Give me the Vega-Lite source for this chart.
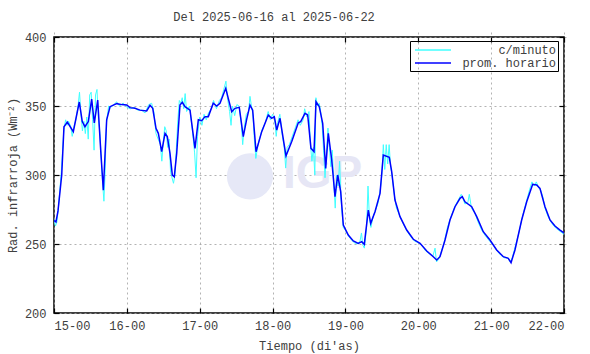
{
  "$schema": "https://vega.github.io/schema/vega-lite/v6.json",
  "width": 510,
  "height": 276,
  "autosize": {"type": "none"},
  "padding": {"left": 54, "top": 37, "right": 26, "bottom": 41},
  "background": "white",
  "title": {"text": "Del 2025-06-16 al 2025-06-22", "dx": -35, "offset": 7},
  "config": {
    "view": {"stroke": "#000000", "strokeWidth": 1.5},
    "font": "Liberation Mono",
    "title": {"font": "Liberation Mono", "fontSize": 12, "fontWeight": "normal", "color": "#404040"},
    "axis": {
      "labelFont": "Liberation Mono", "labelFontSize": 12, "labelColor": "#404040",
      "titleFont": "Liberation Mono", "titleFontSize": 12, "titleFontWeight": "normal", "titleColor": "#404040",
      "domain": false, "ticks": true, "tickColor": "#000000", "tickSize": 5, "tickWidth": 1.2, "offset": -5,
      "gridColor": "#a0a0a0", "gridDash": [2, 3], "gridWidth": 0.8
    },
    "legend": {
      "labelFont": "Liberation Mono", "labelFontSize": 12, "labelColor": "#404040"
    }
  },
  "datasets": {
    "horario": [
      {"t": 15.000, "v": 267}, {"t": 15.027, "v": 266}, {"t": 15.055, "v": 274}, {"t": 15.106, "v": 300},
      {"t": 15.137, "v": 335}, {"t": 15.183, "v": 338.4}, {"t": 15.265, "v": 331.4}, {"t": 15.347, "v": 352.9},
      {"t": 15.388, "v": 338.7}, {"t": 15.425, "v": 335}, {"t": 15.471, "v": 338.7}, {"t": 15.517, "v": 355},
      {"t": 15.553, "v": 337.7}, {"t": 15.600, "v": 354.3}, {"t": 15.641, "v": 318}, {"t": 15.677, "v": 289},
      {"t": 15.723, "v": 340}, {"t": 15.769, "v": 349.5}, {"t": 15.861, "v": 351.7}, {"t": 15.929, "v": 351},
      {"t": 15.998, "v": 350.7}, {"t": 16.043, "v": 348.8}, {"t": 16.112, "v": 348.3}, {"t": 16.180, "v": 347},
      {"t": 16.272, "v": 346.4}, {"t": 16.318, "v": 350.5}, {"t": 16.355, "v": 348.3}, {"t": 16.400, "v": 333.8},
      {"t": 16.432, "v": 330.2}, {"t": 16.478, "v": 316.9}, {"t": 16.524, "v": 330.2}, {"t": 16.555, "v": 327.8},
      {"t": 16.592, "v": 315.7}, {"t": 16.624, "v": 300}, {"t": 16.651, "v": 298.8}, {"t": 16.684, "v": 315.7},
      {"t": 16.729, "v": 350.7}, {"t": 16.761, "v": 352.7}, {"t": 16.798, "v": 349.5}, {"t": 16.867, "v": 347},
      {"t": 16.935, "v": 319.3}, {"t": 16.981, "v": 340}, {"t": 17.027, "v": 339.4}, {"t": 17.073, "v": 342.3},
      {"t": 17.118, "v": 342.3}, {"t": 17.186, "v": 352}, {"t": 17.233, "v": 350}, {"t": 17.278, "v": 352},
      {"t": 17.357, "v": 362.8}, {"t": 17.439, "v": 345.9}, {"t": 17.484, "v": 348.3}, {"t": 17.543, "v": 349},
      {"t": 17.598, "v": 327.8}, {"t": 17.645, "v": 340.5}, {"t": 17.690, "v": 350.7}, {"t": 17.727, "v": 347},
      {"t": 17.773, "v": 316.9}, {"t": 17.851, "v": 331.4}, {"t": 17.941, "v": 343.5}, {"t": 17.988, "v": 341.1},
      {"t": 18.024, "v": 342.3}, {"t": 18.057, "v": 332.6}, {"t": 18.102, "v": 341.1}, {"t": 18.184, "v": 313.8},
      {"t": 18.263, "v": 324.2}, {"t": 18.353, "v": 337.9}, {"t": 18.386, "v": 338.7}, {"t": 18.445, "v": 344.7},
      {"t": 18.482, "v": 343.5}, {"t": 18.527, "v": 319.3}, {"t": 18.569, "v": 316.9}, {"t": 18.596, "v": 353.1},
      {"t": 18.641, "v": 349.5}, {"t": 18.688, "v": 337.4}, {"t": 18.729, "v": 304.8}, {"t": 18.765, "v": 330.2},
      {"t": 18.812, "v": 310.9}, {"t": 18.857, "v": 284.3}, {"t": 18.894, "v": 300}, {"t": 18.935, "v": 287.9},
      {"t": 18.971, "v": 263.8}, {"t": 19.039, "v": 256.5}, {"t": 19.108, "v": 252.2}, {"t": 19.177, "v": 250.5},
      {"t": 19.223, "v": 251.7}, {"t": 19.259, "v": 249.8}, {"t": 19.314, "v": 274.6}, {"t": 19.347, "v": 265},
      {"t": 19.406, "v": 273.4}, {"t": 19.475, "v": 286.7}, {"t": 19.520, "v": 314.5}, {"t": 19.602, "v": 312.8},
      {"t": 19.635, "v": 302.4}, {"t": 19.680, "v": 281.9}, {"t": 19.749, "v": 269.8}, {"t": 19.841, "v": 260.1},
      {"t": 19.932, "v": 253.4}, {"t": 20.024, "v": 250.5}, {"t": 20.116, "v": 244.9}, {"t": 20.206, "v": 240.8},
      {"t": 20.253, "v": 238.4}, {"t": 20.298, "v": 240.8}, {"t": 20.367, "v": 252.9}, {"t": 20.435, "v": 267.4},
      {"t": 20.504, "v": 277}, {"t": 20.573, "v": 283.1}, {"t": 20.604, "v": 284.3}, {"t": 20.641, "v": 280.6},
      {"t": 20.733, "v": 277}, {"t": 20.802, "v": 269.8}, {"t": 20.892, "v": 258.9}, {"t": 20.984, "v": 252.9},
      {"t": 21.076, "v": 245.7}, {"t": 21.167, "v": 240.8}, {"t": 21.235, "v": 239.6}, {"t": 21.273, "v": 236.5},
      {"t": 21.327, "v": 245.7}, {"t": 21.419, "v": 267.4}, {"t": 21.488, "v": 280.6}, {"t": 21.570, "v": 293.3},
      {"t": 21.625, "v": 292.8}, {"t": 21.670, "v": 290.3}, {"t": 21.739, "v": 277}, {"t": 21.808, "v": 267.4},
      {"t": 21.876, "v": 263}, {"t": 21.945, "v": 260.1}, {"t": 22.000, "v": 258}
    ],
    "minuto": [
      {"t": 15.00, "v": 268}, {"t": 15.02, "v": 263}, {"t": 15.04, "v": 266}, {"t": 15.06, "v": 276}, {"t": 15.10, "v": 302},
      {"t": 15.135, "v": 333}, {"t": 15.16, "v": 340}, {"t": 15.18, "v": 336}, {"t": 15.20, "v": 339}, {"t": 15.23, "v": 335},
      {"t": 15.25, "v": 328}, {"t": 15.27, "v": 334}, {"t": 15.30, "v": 340}, {"t": 15.33, "v": 350}, {"t": 15.35, "v": 360},
      {"t": 15.37, "v": 344}, {"t": 15.39, "v": 332}, {"t": 15.41, "v": 339}, {"t": 15.43, "v": 330}, {"t": 15.45, "v": 342},
      {"t": 15.47, "v": 326}, {"t": 15.49, "v": 358}, {"t": 15.51, "v": 360}, {"t": 15.53, "v": 340}, {"t": 15.55, "v": 318},
      {"t": 15.57, "v": 358}, {"t": 15.59, "v": 362}, {"t": 15.61, "v": 340}, {"t": 15.63, "v": 330}, {"t": 15.65, "v": 310},
      {"t": 15.67, "v": 292}, {"t": 15.685, "v": 281}, {"t": 15.70, "v": 300}, {"t": 15.72, "v": 338}, {"t": 15.75, "v": 350},
      {"t": 15.78, "v": 349}, {"t": 15.82, "v": 351}, {"t": 15.86, "v": 353}, {"t": 15.90, "v": 350}, {"t": 15.95, "v": 352},
      {"t": 16.00, "v": 349}, {"t": 16.05, "v": 348}, {"t": 16.10, "v": 349}, {"t": 16.15, "v": 347}, {"t": 16.20, "v": 347},
      {"t": 16.25, "v": 345}, {"t": 16.30, "v": 351}, {"t": 16.34, "v": 352}, {"t": 16.37, "v": 346}, {"t": 16.40, "v": 330},
      {"t": 16.43, "v": 326}, {"t": 16.46, "v": 322}, {"t": 16.48, "v": 310}, {"t": 16.50, "v": 324}, {"t": 16.52, "v": 335},
      {"t": 16.54, "v": 332}, {"t": 16.56, "v": 320}, {"t": 16.58, "v": 326}, {"t": 16.60, "v": 302}, {"t": 16.62, "v": 298},
      {"t": 16.64, "v": 294}, {"t": 16.66, "v": 300}, {"t": 16.68, "v": 320}, {"t": 16.70, "v": 340}, {"t": 16.72, "v": 354},
      {"t": 16.74, "v": 352}, {"t": 16.76, "v": 356}, {"t": 16.78, "v": 348}, {"t": 16.80, "v": 359}, {"t": 16.82, "v": 346},
      {"t": 16.86, "v": 350}, {"t": 16.90, "v": 332}, {"t": 16.93, "v": 316}, {"t": 16.95, "v": 298}, {"t": 16.97, "v": 328},
      {"t": 17.00, "v": 342}, {"t": 17.03, "v": 336}, {"t": 17.06, "v": 344}, {"t": 17.09, "v": 340}, {"t": 17.12, "v": 345},
      {"t": 17.16, "v": 348}, {"t": 17.19, "v": 354}, {"t": 17.23, "v": 348}, {"t": 17.27, "v": 354}, {"t": 17.30, "v": 356},
      {"t": 17.33, "v": 362}, {"t": 17.36, "v": 368}, {"t": 17.38, "v": 356}, {"t": 17.41, "v": 346}, {"t": 17.43, "v": 336},
      {"t": 17.45, "v": 350}, {"t": 17.48, "v": 343}, {"t": 17.51, "v": 351}, {"t": 17.54, "v": 350}, {"t": 17.57, "v": 338},
      {"t": 17.59, "v": 322}, {"t": 17.61, "v": 334}, {"t": 17.64, "v": 344}, {"t": 17.67, "v": 346}, {"t": 17.69, "v": 357},
      {"t": 17.71, "v": 350}, {"t": 17.73, "v": 344}, {"t": 17.75, "v": 326}, {"t": 17.77, "v": 312}, {"t": 17.80, "v": 322},
      {"t": 17.85, "v": 332}, {"t": 17.90, "v": 338}, {"t": 17.94, "v": 346}, {"t": 17.97, "v": 340}, {"t": 18.00, "v": 344},
      {"t": 18.03, "v": 340}, {"t": 18.05, "v": 328}, {"t": 18.07, "v": 338}, {"t": 18.10, "v": 344}, {"t": 18.13, "v": 330},
      {"t": 18.16, "v": 320}, {"t": 18.18, "v": 305}, {"t": 18.20, "v": 320}, {"t": 18.23, "v": 322}, {"t": 18.27, "v": 328},
      {"t": 18.31, "v": 334}, {"t": 18.35, "v": 340}, {"t": 18.38, "v": 336}, {"t": 18.42, "v": 340}, {"t": 18.44, "v": 348},
      {"t": 18.47, "v": 342}, {"t": 18.50, "v": 346}, {"t": 18.52, "v": 322}, {"t": 18.54, "v": 310}, {"t": 18.56, "v": 320},
      {"t": 18.58, "v": 300}, {"t": 18.595, "v": 356}, {"t": 18.62, "v": 350}, {"t": 18.64, "v": 352}, {"t": 18.66, "v": 346},
      {"t": 18.68, "v": 336}, {"t": 18.70, "v": 318}, {"t": 18.72, "v": 298}, {"t": 18.745, "v": 320}, {"t": 18.76, "v": 334},
      {"t": 18.78, "v": 320}, {"t": 18.80, "v": 306}, {"t": 18.82, "v": 318}, {"t": 18.84, "v": 294}, {"t": 18.86, "v": 276},
      {"t": 18.88, "v": 300}, {"t": 18.90, "v": 292}, {"t": 18.92, "v": 310}, {"t": 18.94, "v": 282}, {"t": 18.97, "v": 262},
      {"t": 19.00, "v": 260}, {"t": 19.04, "v": 256}, {"t": 19.08, "v": 253}, {"t": 19.12, "v": 251}, {"t": 19.16, "v": 250},
      {"t": 19.20, "v": 252}, {"t": 19.22, "v": 258}, {"t": 19.24, "v": 249}, {"t": 19.26, "v": 247}, {"t": 19.29, "v": 262},
      {"t": 19.31, "v": 292}, {"t": 19.33, "v": 268}, {"t": 19.35, "v": 262}, {"t": 19.38, "v": 270}, {"t": 19.41, "v": 274},
      {"t": 19.45, "v": 280}, {"t": 19.48, "v": 290}, {"t": 19.50, "v": 300}, {"t": 19.52, "v": 322}, {"t": 19.54, "v": 304},
      {"t": 19.56, "v": 322}, {"t": 19.58, "v": 308}, {"t": 19.60, "v": 322}, {"t": 19.62, "v": 306}, {"t": 19.64, "v": 300},
      {"t": 19.67, "v": 286}, {"t": 19.70, "v": 276}, {"t": 19.75, "v": 270}, {"t": 19.80, "v": 264}, {"t": 19.85, "v": 259},
      {"t": 19.90, "v": 255}, {"t": 19.95, "v": 252}, {"t": 20.00, "v": 251}, {"t": 20.05, "v": 249}, {"t": 20.10, "v": 245},
      {"t": 20.15, "v": 243}, {"t": 20.20, "v": 241}, {"t": 20.23, "v": 247}, {"t": 20.25, "v": 237}, {"t": 20.28, "v": 239},
      {"t": 20.30, "v": 242}, {"t": 20.35, "v": 250}, {"t": 20.40, "v": 262}, {"t": 20.45, "v": 270}, {"t": 20.50, "v": 277},
      {"t": 20.55, "v": 282}, {"t": 20.59, "v": 286}, {"t": 20.62, "v": 282}, {"t": 20.64, "v": 279}, {"t": 20.68, "v": 280},
      {"t": 20.70, "v": 286}, {"t": 20.73, "v": 276}, {"t": 20.78, "v": 272}, {"t": 20.82, "v": 266}, {"t": 20.87, "v": 260},
      {"t": 20.92, "v": 256}, {"t": 20.98, "v": 252}, {"t": 21.03, "v": 249}, {"t": 21.08, "v": 245}, {"t": 21.13, "v": 242},
      {"t": 21.18, "v": 240}, {"t": 21.23, "v": 240}, {"t": 21.26, "v": 237}, {"t": 21.29, "v": 240}, {"t": 21.33, "v": 248},
      {"t": 21.38, "v": 258}, {"t": 21.43, "v": 270}, {"t": 21.48, "v": 280}, {"t": 21.52, "v": 288}, {"t": 21.56, "v": 295},
      {"t": 21.59, "v": 292}, {"t": 21.62, "v": 295}, {"t": 21.65, "v": 291}, {"t": 21.68, "v": 289}, {"t": 21.71, "v": 284},
      {"t": 21.74, "v": 276}, {"t": 21.78, "v": 270}, {"t": 21.82, "v": 266}, {"t": 21.86, "v": 263}, {"t": 21.90, "v": 261},
      {"t": 21.95, "v": 259}, {"t": 22.00, "v": 257}
    ],
    "marca": [{"t": 17.69, "v": 299, "txt": "IGP"}]
  },
  "layer": [
    {
      "data": {"name": "marca"},
      "mark": {"type": "point", "filled": true, "size": 2124, "color": "#e6e8f7", "opacity": 1},
      "encoding": {
        "x": {"field": "t", "type": "quantitative", "axis": null, "scale": {"domain": [15, 22], "nice": false}},
        "y": {"field": "v", "type": "quantitative", "axis": null, "scale": {"domain": [200, 400], "nice": false}}
      }
    },
    {
      "data": {"name": "marca"},
      "mark": {"type": "text", "font": "Liberation Sans", "fontSize": 46, "fontWeight": "bold", "color": "#e6e6f5", "align": "left", "baseline": "middle", "dx": 33, "dy": -2},
      "encoding": {
        "x": {"field": "t", "type": "quantitative", "axis": null},
        "y": {"field": "v", "type": "quantitative", "axis": null},
        "text": {"field": "txt"}
      }
    },
    {
      "data": {"name": "minuto"},
      "mark": {"type": "line", "strokeWidth": 1, "clip": true},
      "encoding": {
        "x": {"field": "t", "type": "quantitative",
              "axis": {"orient": "top", "labels": false, "grid": false, "ticks": true, "title": null, "values": [15, 16, 17, 18, 19, 20, 21, 22]}},
        "y": {"field": "v", "type": "quantitative",
              "axis": {"orient": "right", "labels": false, "grid": false, "ticks": true, "title": null, "values": [200, 250, 300, 350, 400]}},
        "color": {"datum": "c/minuto", "type": "nominal",
                  "scale": {"domain": ["c/minuto", "prom. horario"], "range": ["#40ffff", "#0000ff"]},
                  "legend": {"orient": "none", "legendX": 356, "legendY": 4, "title": null,
                             "strokeColor": "#000000", "padding": 2, "symbolType": "M-3,0H3", "symbolSize": 144,
                             "symbolOffset": 14, "symbolStrokeWidth": 1.5, "labelAlign": "right", "labelOffset": 116, "rowPadding": 0,
                             "labelLimit": 200}}
      }
    },
    {
      "data": {"name": "horario"},
      "mark": {"type": "line", "strokeWidth": 1.5, "clip": true},
      "encoding": {
        "x": {"field": "t", "type": "quantitative",
              "axis": {"title": "Tiempo (di'as)", "values": [15, 16, 17, 18, 19, 20, 21, 22], "grid": true, "ticks": true,
                       "labelExpr": "datum.value + '-00'", "labelPadding": 7, "titlePadding": 9}},
        "y": {"field": "v", "type": "quantitative",
              "axis": {"title": "Rad. infrarroja (Wm⁻²)", "values": [200, 250, 300, 350, 400], "grid": true, "ticks": true,
                       "labelPadding": 8, "titlePadding": 5}},
        "color": {"datum": "prom. horario", "type": "nominal"}
      }
    }
  ],
  "resolve": {"axis": {"x": "independent", "y": "independent"}}
}
